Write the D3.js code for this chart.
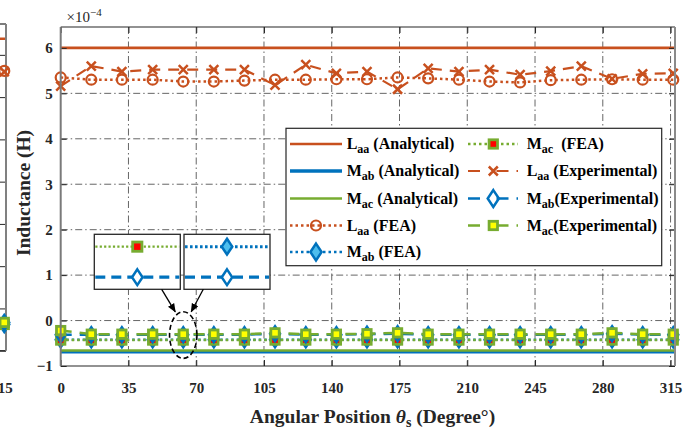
<!DOCTYPE html>
<html><head><meta charset="utf-8">
<script src="https://cdn.jsdelivr.net/npm/d3@7"></script>
<style>
html,body{margin:0;padding:0;background:#fff;}
svg{display:block;font-family:"Liberation Serif","Times New Roman",serif;}
text{white-space:pre;}
</style>
</head><body>
<svg id="chart" width="696" height="430"></svg>
<script>
// ---------------- DATA (units of 1e-4 H) ----------------
const angles = [0, 15.8, 31.6, 47.5, 63.3, 79.1, 94.9, 110.7, 126.6, 142.4, 158.2, 174.0, 189.8, 205.7, 221.5, 237.3, 253.1, 268.9, 284.8, 300.6, 316.4];
const analyticalAngles = [0, 360];
const laaAnalytical = [6.0, 6.0];
const mabAnalytical = [-0.685, -0.685];
const macAnalytical = [-0.66, -0.66];
const laaFEA = [5.35, 5.30, 5.30, 5.30, 5.26, 5.26, 5.28, 5.30, 5.30, 5.31, 5.31, 5.35, 5.33, 5.30, 5.26, 5.24, 5.29, 5.30, 5.31, 5.30, 5.30];
const mabFEA = [-0.42, -0.42, -0.42, -0.42, -0.42, -0.42, -0.42, -0.42, -0.42, -0.42, -0.42, -0.42, -0.42, -0.42, -0.42, -0.42, -0.42, -0.42, -0.42, -0.42, -0.42];
const macFEA = [-0.43, -0.43, -0.43, -0.43, -0.43, -0.43, -0.43, -0.43, -0.43, -0.43, -0.43, -0.43, -0.43, -0.43, -0.43, -0.43, -0.43, -0.43, -0.43, -0.43, -0.43];
const laaExp = [5.16, 5.60, 5.48, 5.52, 5.52, 5.52, 5.52, 5.18, 5.63, 5.44, 5.48, 5.09, 5.55, 5.48, 5.52, 5.41, 5.49, 5.60, 5.32, 5.43, 5.44];
const mabExp = [-0.31, -0.31, -0.31, -0.31, -0.31, -0.31, -0.31, -0.29, -0.31, -0.31, -0.30, -0.29, -0.31, -0.31, -0.31, -0.31, -0.31, -0.31, -0.29, -0.31, -0.31];
const macExp = [-0.22, -0.30, -0.30, -0.30, -0.30, -0.30, -0.30, -0.27, -0.30, -0.30, -0.29, -0.27, -0.30, -0.30, -0.30, -0.30, -0.30, -0.30, -0.27, -0.30, -0.30];
const xTicks = [0, 35, 70, 105, 140, 175, 210, 245, 280, 315];
const yTicks = [-1, 0, 1, 2, 3, 4, 5, 6];
const legendLabels = [
  ["L", "aa", " (Analytical)"], ["M", "ab", " (Analytical)"], ["M", "ac", " (Analytical)"],
  ["L", "aa", " (FEA)"], ["M", "ab", " (FEA)"], ["M", "ac", "  (FEA)"],
  ["L", "aa", " (Experimental)"], ["M", "ab", "(Experimental)"], ["M", "ac", "(Experimental)"]
];
// neighbouring (cut-off) panel on the left: last sample only
const leftAngle = [316.4];
const leftLaaAnalytical = [6.38, 6.38];
const leftLaaFEA = [5.62];
const leftLaaExp = [5.60];
const leftMFEA = [-0.38];
const leftMExp = [-0.33];
const leftYTicks = [-1, 0, 1, 2, 3, 4, 5, 6];
const leftXTicks = [315];
// magnified insets (window around the 63.3° sample)
const insetAngles = [58.3, 68.3];
const insetMarkAngle = [63.3];
const insetFEA = [-0.3345, -0.3345];
const insetExp = [-0.3456, -0.3456];
const circledPoint = {angle: 63.3, value: -0.32};

// ---------------- STYLES ----------------
const RED = "#C8501E", BLUE = "#0072BD", GREEN = "#77AC30", LBLUE = "#4DBEEE", YEL = "#FFFF00", FRED = "#FF0000";
const AX = "#262626";
const DOT = "2.5,3", DASH = "11,8";

const svg = d3.select("#chart");
const P = {l: 60.7, r: 675, t: 27, b: 366};
const x = d3.scaleLinear().domain([0, 317.3]).range([P.l, P.r]);
const y = d3.scaleLinear().domain([-1, 6.46]).range([P.b, P.t]);

const defs = svg.append("defs");
defs.append("clipPath").attr("id", "plotclip").append("rect")
  .attr("x", P.l).attr("y", P.t).attr("width", P.r - P.l).attr("height", P.b - P.t);
defs.append("clipPath").attr("id", "leftclip").append("rect")
  .attr("x", 0).attr("y", 0).attr("width", 6.5).attr("height", 430);
defs.append("marker").attr("id", "arrow").attr("viewBox", "0 0 10 10").attr("refX", 9).attr("refY", 5)
  .attr("markerWidth", 9).attr("markerHeight", 9).attr("markerUnits", "userSpaceOnUse").attr("orient", "auto")
  .append("path").attr("d", "M0,1 L10,5 L0,9 Z").attr("fill", "#000");

svg.append("rect").attr("x", P.l).attr("y", P.t).attr("width", P.r - P.l).attr("height", P.b - P.t).attr("fill", "#fff");

// ---------------- marker drawing ----------------
function drawMarker(g, type, cx, cy, color, fill, sc) {
  sc = sc || 1;
  if (type === "circle") {
    g.append("circle").attr("cx", cx).attr("cy", cy).attr("r", 5 * sc)
      .attr("fill", fill || "none").attr("stroke", color).attr("stroke-width", 2.2);
  } else if (type === "cross") {
    const s = 4.5 * sc;
    g.append("path").attr("d", `M${cx - s},${cy - s}L${cx + s},${cy + s}M${cx - s},${cy + s}L${cx + s},${cy - s}`)
      .attr("stroke", color).attr("stroke-width", 2.5).attr("fill", "none");
  } else if (type === "square") {
    const s = 4.2 * sc;
    g.append("rect").attr("x", cx - s).attr("y", cy - s).attr("width", 2 * s).attr("height", 2 * s)
      .attr("fill", fill || "none").attr("stroke", color).attr("stroke-width", 2.8);
  } else if (type === "diamond") {
    const hw = 5 * sc, hh = 7.5 * sc;
    g.append("path").attr("d", `M${cx},${cy - hh}L${cx + hw},${cy}L${cx},${cy + hh}L${cx - hw},${cy}Z`)
      .attr("fill", fill || "none").attr("stroke", color).attr("stroke-width", 2.5);
  }
}

// ---------------- LEFT CUT-OFF PANEL ----------------
const xL = d3.scaleLinear().domain([0, 317.3]).range([6 - 614.3, 6]);
const yL = d3.scaleLinear().domain([-1, 6.73]).range([350.7, 24]);
const lg = svg.append("g");
const lgc = lg.append("g").attr("clip-path", "url(#leftclip)");
lgc.append("path").datum(analyticalAngles.map((a, i) => [a, leftLaaAnalytical[i]]))
  .attr("d", d3.line().x(d => xL(d[0])).y(d => yL(d[1]))).attr("stroke", RED).attr("stroke-width", 2.5).attr("fill", "none");
lg.append("g").attr("transform", "translate(6,0)")
  .call(d3.axisRight(yL).tickValues(leftYTicks).tickSizeInner(-6).tickSizeOuter(0).tickFormat(""))
  .call(g => g.select(".domain").remove())
  .call(g => g.selectAll("line").attr("stroke", AX));
lg.append("line").attr("x1", 0).attr("x2", 6).attr("y1", yL.range()[1]).attr("y2", yL.range()[1]).attr("stroke", AX).attr("stroke-width", 1.2);
lg.append("line").attr("x1", 0).attr("x2", 6).attr("y1", yL.range()[0]).attr("y2", yL.range()[0]).attr("stroke", AX).attr("stroke-width", 1.2);
lg.append("line").attr("x1", 6).attr("x2", 6).attr("y1", yL.range()[1]).attr("y2", yL.range()[0]).attr("stroke", "#808080").attr("stroke-width", 2);
leftAngle.forEach((a, i) => {
  drawMarker(lg, "circle", xL(a), yL(leftLaaFEA[i]), RED);
  drawMarker(lg, "cross", xL(a), yL(leftLaaExp[i]), RED);
  drawMarker(lg, "diamond", xL(a), yL(leftMFEA[i]), BLUE, LBLUE);
  drawMarker(lg, "square", xL(a), yL(leftMFEA[i]), GREEN, FRED);
  drawMarker(lg, "diamond", xL(a), yL(leftMExp[i]), BLUE, "none");
  drawMarker(lg, "square", xL(a), yL(leftMExp[i]), GREEN, YEL);
});
leftXTicks.forEach(t => {
  lg.append("text").attr("x", xL(t)).attr("y", 393).attr("text-anchor", "middle")
    .attr("font-size", 15).attr("font-weight", "bold").attr("fill", AX).text(t);
});

// ---------------- GRID ----------------
const grid = svg.append("g").attr("stroke", "#555").attr("stroke-width", 0.9).attr("stroke-dasharray", "7,3,1.5,3");
xTicks.filter(t => t > 0).forEach(t => grid.append("line").attr("x1", x(t)).attr("x2", x(t)).attr("y1", P.t).attr("y2", P.b));
yTicks.filter(t => t > -1).forEach(t => grid.append("line").attr("x1", P.l).attr("x2", P.r).attr("y1", y(t)).attr("y2", y(t)));

// ---------------- SERIES ----------------
const series = [
  {xs: analyticalAngles, ys: laaAnalytical, color: RED, w: 2.6, dash: null, m: null},
  {xs: analyticalAngles, ys: mabAnalytical, color: BLUE, w: 3.6, dash: null, m: null},
  {xs: analyticalAngles, ys: macAnalytical, color: GREEN, w: 2.6, dash: null, m: null},
  {xs: angles, ys: laaFEA, color: RED, w: 2.5, dash: DOT, m: "circle", fill: "none"},
  {xs: angles, ys: mabFEA, color: BLUE, w: 2.5, dash: DOT, m: "diamond", fill: LBLUE},
  {xs: angles, ys: macFEA, color: GREEN, w: 2.5, dash: DOT, m: "square", fill: FRED},
  {xs: angles, ys: laaExp, color: RED, w: 2.2, dash: DASH, m: "cross"},
  {xs: angles, ys: mabExp, color: BLUE, w: 2.5, dash: DASH, m: "diamond", fill: "none"},
  {xs: angles, ys: macExp, color: GREEN, w: 2.5, dash: DASH, m: "square", fill: YEL}
];
const line = d3.line().x(d => x(d[0])).y(d => y(d[1]));
const sg = svg.append("g");
series.forEach(s => {
  const pts = s.xs.map((a, i) => [a, s.ys[i]]);
  sg.append("path").datum(pts).attr("d", line).attr("clip-path", "url(#plotclip)")
    .attr("fill", "none").attr("stroke", s.color).attr("stroke-width", s.w)
    .attr("stroke-dasharray", s.dash).attr("stroke-linecap", "butt");
  if (s.m) pts.forEach(p => drawMarker(sg, s.m, x(p[0]), y(p[1]), s.color, s.fill));
});

// ---------------- AXES ----------------
const axG = svg.append("g");
axG.append("g").attr("transform", `translate(0,${P.b})`)
  .call(d3.axisBottom(x).tickValues(xTicks).tickSizeInner(-6).tickSizeOuter(0).tickPadding(16.5))
  .call(g => g.select(".domain").remove());
axG.append("g").attr("transform", `translate(0,${P.t})`)
  .call(d3.axisTop(x).tickValues(xTicks).tickSizeInner(-6).tickSizeOuter(0).tickFormat(""))
  .call(g => g.select(".domain").remove());
axG.append("g").attr("transform", `translate(${P.l},0)`)
  .call(d3.axisLeft(y).tickValues(yTicks).tickSizeInner(-6).tickSizeOuter(0).tickPadding(8).tickFormat(d3.format("d")))
  .call(g => g.select(".domain").remove());
axG.append("g").attr("transform", `translate(${P.r},0)`)
  .call(d3.axisRight(y).tickValues(yTicks).tickSizeInner(-6).tickSizeOuter(0).tickFormat(""))
  .call(g => g.select(".domain").remove());
axG.selectAll(".tick line").attr("stroke", AX).attr("stroke-width", 1);
axG.selectAll(".tick text").attr("font-family", "Liberation Serif, serif").attr("font-size", 15)
  .attr("font-weight", "bold").attr("fill", AX);
axG.append("line").attr("x1", P.l).attr("x2", P.r).attr("y1", P.t).attr("y2", P.t).attr("stroke", AX).attr("stroke-width", 1.2);
axG.append("line").attr("x1", P.l).attr("x2", P.r).attr("y1", P.b).attr("y2", P.b).attr("stroke", AX).attr("stroke-width", 1.2);
axG.append("line").attr("x1", P.l).attr("x2", P.l).attr("y1", P.t).attr("y2", P.b).attr("stroke", "#7a7a7a").attr("stroke-width", 2);
axG.append("line").attr("x1", P.r).attr("x2", P.r).attr("y1", P.t).attr("y2", P.b).attr("stroke", "#8a8a8a").attr("stroke-width", 2);

// exponent label
const ex = svg.append("text").attr("x", 66.5).attr("y", 21.5).attr("font-size", 15).attr("fill", AX);
ex.append("tspan").text("×10");
ex.append("tspan").attr("font-size", 11).attr("dy", -6).text("−4");

// axis titles
const xt = svg.append("text").attr("x", 372.5).attr("y", 422.5).attr("text-anchor", "middle")
  .attr("font-size", 19.5).attr("font-weight", "bold").attr("fill", AX);
xt.append("tspan").text("Angular Position ");
xt.append("tspan").attr("font-style", "italic").text("θ");
xt.append("tspan").attr("font-size", 14).attr("dy", 4).text("s");
xt.append("tspan").attr("dy", -4).text(" (Degree°)");

svg.append("text").attr("transform", "translate(29.5,193) rotate(-90)").attr("text-anchor", "middle")
  .attr("font-size", 19.5).attr("font-weight", "bold").attr("fill", AX).text("Inductance (H)");

// ---------------- LEGEND ----------------
const LG = {x: 286, y: 128.3, w: 375.7, h: 137.4};
const leg = svg.append("g");
leg.append("rect").attr("x", LG.x).attr("y", LG.y).attr("width", LG.w).attr("height", LG.h)
  .attr("fill", "#fff").attr("stroke", AX).attr("stroke-width", 1.2);
const rowsY = [144, 171, 198.5, 225.5, 252];
series.forEach((s, i) => {
  const col = i < 5 ? 0 : 1;
  const r = col === 0 ? i : i - 5;
  const yy = rowsY[r];
  const x0 = col === 0 ? 290 : 468, x1 = col === 0 ? 342 : 518, xm = col === 0 ? 316 : 493.3;
  const tx = col === 0 ? 346.7 : 526.7;
  leg.append("line").attr("x1", x0).attr("x2", x1).attr("y1", yy).attr("y2", yy)
    .attr("stroke", s.color).attr("stroke-width", s.w)
    .attr("stroke-dasharray", s.dash === DASH ? "12,16.5,12,8" : s.dash);
  if (s.m) drawMarker(leg, s.m, xm, yy, s.color, s.fill, s.m === "diamond" ? 1.12 : 1);
  const lab = legendLabels[i];
  const t = leg.append("text").attr("x", tx).attr("y", yy + 5.3).attr("font-size", 16)
    .attr("font-weight", "bold").attr("fill", "#000");
  t.append("tspan").text(lab[0]);
  t.append("tspan").attr("font-size", 12).attr("dy", 4).text(lab[1]);
  t.append("tspan").attr("dy", -4).text(lab[2]);
});

// ---------------- INSETS ----------------
const yI = d3.scaleLinear().domain([-0.35, -0.33]).range([289.3, 234.3]);
const boxes = [
  {x0: 94.3, x1: 180.3, top: {color: GREEN, w: 2.3, dash: "2.2,2.2", m: "square", fill: FRED}, bot: {color: BLUE, w: 3.2, dash: "10,6", m: "diamond", fill: "#fff"}},
  {x0: 184, x1: 270, top: {color: BLUE, w: 3, dash: "2.6,2.4", m: "diamond", fill: LBLUE}, bot: {color: BLUE, w: 3.2, dash: "10,6", m: "diamond", fill: "#fff"}}
];
const ig = svg.append("g");
boxes.forEach(b => {
  const xI = d3.scaleLinear().domain([insetAngles[0], insetAngles[1]]).range([b.x0, b.x1]);
  ig.append("rect").attr("x", b.x0).attr("y", yI.range()[1]).attr("width", b.x1 - b.x0).attr("height", yI.range()[0] - yI.range()[1])
    .attr("fill", "#fff").attr("stroke", AX).attr("stroke-width", 1.3);
  [[b.top, insetFEA], [b.bot, insetExp]].forEach(([st, vals]) => {
    ig.append("line").attr("x1", xI(insetAngles[0]) + 1).attr("x2", xI(insetAngles[1]) - 1)
      .attr("y1", yI(vals[0])).attr("y2", yI(vals[1]))
      .attr("stroke", st.color).attr("stroke-width", st.w).attr("stroke-dasharray", st.dash);
    insetMarkAngle.forEach(a => drawMarker(ig, st.m, xI(a), yI(vals[0]), st.color, st.fill, st.m === "diamond" ? 1.05 : 1.1));
  });
});
// circled point + arrows
const ecx = x(circledPoint.angle), ecy = y(circledPoint.value);
const erx = 13.7, ery = 23.3;
ig.append("ellipse").attr("cx", ecx).attr("cy", ecy).attr("rx", erx).attr("ry", ery)
  .attr("fill", "none").attr("stroke", "#000").attr("stroke-width", 1.6).attr("stroke-dasharray", "5,3");
ig.append("line").attr("x1", boxes[0].x1 - 18.6).attr("y1", yI.range()[0]).attr("x2", ecx - 8).attr("y2", ecy - ery)
  .attr("stroke", "#000").attr("stroke-width", 1.3).attr("marker-end", "url(#arrow)");
ig.append("line").attr("x1", boxes[1].x0 + 19.3).attr("y1", yI.range()[0]).attr("x2", ecx + 8).attr("y2", ecy - ery)
  .attr("stroke", "#000").attr("stroke-width", 1.3).attr("marker-end", "url(#arrow)");
</script>
</body></html>
